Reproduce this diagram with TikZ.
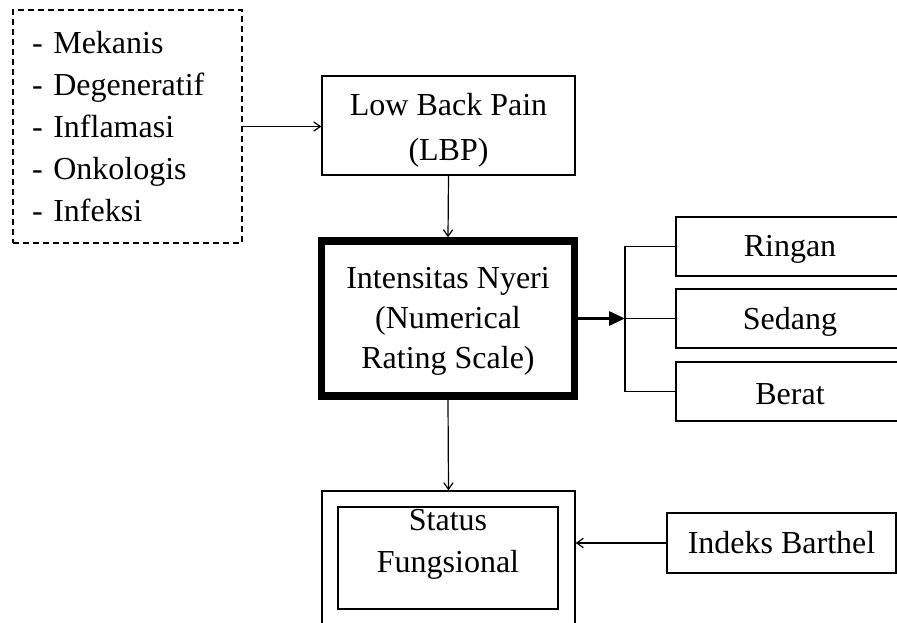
\documentclass[tikz,border=0pt]{standalone}
\usepackage{fontspec}
\setmainfont{Liberation Serif}
\usetikzlibrary{arrows.meta}
\newcommand\pxu{0.75pt}
\begin{document}
\begin{tikzpicture}[x=0.75pt,y=-0.75pt,
  box/.style={draw, line width=1pt, align=center, inner sep=0pt, font=\fontsize{24}{31.5}\selectfont},
  txt/.style={align=center, inner sep=0pt, font=\fontsize{24}{31.5}\selectfont},
  arr/.style={-{Straight Barb[length=5pt,width=7pt]}, line width=0.9pt},
  thickarr/.style={-{Triangle[length=12pt,width=10.5pt]}, line width=2.25pt},
  conn/.style={line width=1pt}]
\useasboundingbox (0,0) rectangle (897,623);
\node[box, dash pattern=on 4.5pt off 3pt, minimum width=229*\pxu, minimum height=233*\pxu,
      text width=191*\pxu, align=left, inner xsep=18*\pxu] (src) at (127.5,126.5)
      {- Mekanis\\- Degeneratif\\- Inflamasi\\- Onkologis\\- Infeksi};
\node[box, minimum width=253*\pxu, minimum height=99*\pxu,
      label={[txt, font=\fontsize{24}{33.75}\selectfont, yshift=-5*\pxu]center:Low Back Pain\\(LBP)}] (lbp) at (448.5,125.5) {};
\node[box, line width=5.5pt, minimum width=253*\pxu, minimum height=155*\pxu,
      label={[txt, font=\fontsize{24}{30}\selectfont, yshift=-3*\pxu]center:Intensitas Nyeri\\(Numerical\\Rating Scale)}] (int) at (448,318.5) {};
\node[box, minimum width=253*\pxu, minimum height=220*\pxu] (sout) at (448.5,601) {};
\node[box, minimum width=220*\pxu, minimum height=102*\pxu] (sin) at (448,558) {};
\node[txt] (stxt) at (448,544) {Status\\Fungsional};
\node[box, minimum width=228*\pxu, minimum height=59*\pxu, label={[txt, yshift=-3*\pxu]center:Ringan}] (rin) at (790,246.5) {};
\node[box, minimum width=228*\pxu, minimum height=59*\pxu, label={[txt, yshift=-3*\pxu]center:Sedang}] (sed) at (790,318.5) {};
\node[box, minimum width=228*\pxu, minimum height=59*\pxu, label={[txt, yshift=-3*\pxu]center:Berat}] (ber) at (790,391.5) {};
\node[box, minimum width=229*\pxu, minimum height=60*\pxu] (ib) at (781.5,543) {Indeks Barthel};
\coordinate (jn) at (625,318.5);
\draw[arr] (src.east) -- (src.east -| lbp.west);
\draw[arr] (lbp.south) -- (int.north);
\draw[arr] (int.south) -- (sout.north);
\draw[thickarr] (int.east) -- (jn);
\draw[conn] (rin.west) -- (rin.west -| jn) -- (ber.west -| jn) -- (ber.west);
\draw[conn] (jn) -- (sed.west);
\draw[arr] (ib.west) -- (ib.west -| sout.east);
\end{tikzpicture}
\end{document}
